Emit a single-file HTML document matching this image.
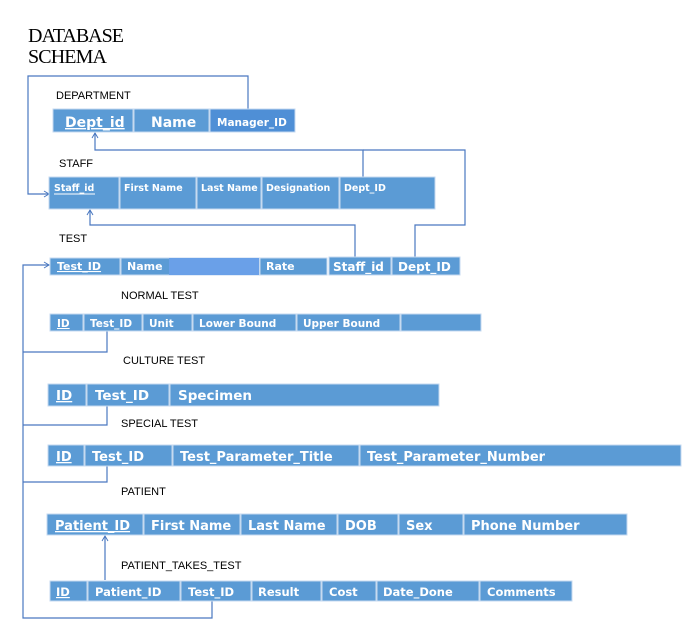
<!DOCTYPE html>
<html><head><meta charset="utf-8"><style>
html,body{margin:0;padding:0;background:#fff;width:699px;height:633px;overflow:hidden}
svg{display:block}
.c{fill:#5b9bd5;stroke:#c6daf0;stroke-width:1}
.t{fill:#fff;font-family:"DejaVu Sans",sans-serif;font-weight:bold}
.l{font-family:"Liberation Sans",sans-serif;font-size:11px;fill:#000}
.ln{stroke:#4a78c0;stroke-width:1.2;fill:none}
</style></head><body>
<svg width="699" height="633" viewBox="0 0 699 633">
<defs><marker id="a" markerWidth="8" markerHeight="8" refX="6" refY="4" orient="auto" markerUnits="userSpaceOnUse"><path d="M1,1 L6,4 L1,7" fill="none" stroke="#4a78c0" stroke-width="1"/></marker></defs>
<text x="28" y="42" font-family="Liberation Serif,serif" font-size="20" textLength="96">DATABASE</text>
<text x="28" y="63" font-family="Liberation Serif,serif" font-size="20" textLength="79">SCHEMA</text>

<!-- connectors -->
<polyline class="ln" points="248,109 248,76 28,76 28,194 49,194" marker-end="url(#a)"/>
<polyline class="ln" points="363,178 363,150 95,150 95,133" marker-end="url(#a)"/>
<polyline class="ln" points="415,258 415,225 465,225 465,150 363,150"/>
<polyline class="ln" points="355,258 355,225 90,225 90,210" marker-end="url(#a)"/>
<polyline class="ln" points="212,601 212,618 23,618 23,265 49,265" marker-end="url(#a)"/>
<polyline class="ln" points="107,331 107,352 23,352"/>
<polyline class="ln" points="107,406 107,425 23,425"/>
<polyline class="ln" points="107,466 107,482 23,482"/>
<polyline class="ln" points="105,580 105,536" marker-end="url(#a)"/>

<!-- DEPARTMENT -->
<text class="l" x="56" y="99">DEPARTMENT</text>
<rect class="c" x="53" y="109" width="80" height="23"/><rect class="c" x="134" y="109" width="75" height="23"/><rect class="c" x="210" y="109" width="85" height="23" style="fill:#4f8fd6"/>
<text class="t" x="65" y="127" font-size="14" text-decoration="underline">Dept_id</text>
<text class="t" x="151" y="127" font-size="14">Name</text>
<text class="t" x="217" y="126" font-size="10.5">Manager_ID</text>

<!-- STAFF -->
<text class="l" x="59" y="167">STAFF</text>
<rect class="c" x="49" y="177" width="70" height="32"/><rect class="c" x="120" y="177" width="76" height="32"/><rect class="c" x="197" y="177" width="64" height="32"/><rect class="c" x="262" y="177" width="77" height="32"/><rect class="c" x="340" y="177" width="95" height="32"/>
<text class="t" x="54" y="191" font-size="9.5">Staff_id</text><line x1="54" y1="194" x2="95" y2="194" stroke="#fff"/>
<text class="t" x="124" y="191" font-size="9.5">First Name</text>
<text class="t" x="201" y="191" font-size="9.5">Last Name</text>
<text class="t" x="266" y="191" font-size="9.5">Designation</text>
<text class="t" x="344" y="191" font-size="9.5">Dept_ID</text>

<!-- TEST -->
<text class="l" x="59" y="242">TEST</text>
<rect class="c" x="50" y="258" width="70" height="17"/><rect class="c" x="121" y="258" width="138" height="17"/><rect x="169" y="258" width="90" height="17" fill="#6aa0e8"/><rect class="c" x="260" y="258" width="67" height="17"/><rect class="c" x="329" y="257" width="62" height="18"/><rect class="c" x="392" y="257" width="68" height="18"/>
<text class="t" x="57" y="270" font-size="11" text-decoration="underline">Test_ID</text>
<text class="t" x="127" y="270" font-size="11">Name</text>
<text class="t" x="266" y="270" font-size="11">Rate</text>
<text class="t" x="333" y="271" font-size="12">Staff_id</text>
<text class="t" x="398" y="271" font-size="12">Dept_ID</text>

<!-- NORMAL TEST -->
<text class="l" x="121" y="299">NORMAL TEST</text>
<rect class="c" x="50" y="314" width="33" height="17"/><rect class="c" x="84" y="314" width="58" height="17"/><rect class="c" x="143" y="314" width="49" height="17"/><rect class="c" x="193" y="314" width="103" height="17"/><rect class="c" x="297" y="314" width="103" height="17"/><rect class="c" x="401" y="314" width="80" height="17"/>
<text class="t" x="57" y="327" font-size="10.5" text-decoration="underline">ID </text>
<text class="t" x="90" y="327" font-size="10.5">Test_ID</text>
<text class="t" x="149" y="327" font-size="10.5">Unit</text>
<text class="t" x="199" y="327" font-size="10.5">Lower Bound</text>
<text class="t" x="303" y="327" font-size="10.5">Upper Bound</text>

<!-- CULTURE TEST -->
<text class="l" x="123" y="364">CULTURE TEST</text>
<rect class="c" x="48" y="384" width="38" height="22"/><rect class="c" x="87" y="384" width="82" height="22"/><rect class="c" x="170" y="384" width="269" height="22"/>
<text class="t" x="56" y="400" font-size="13.5" text-decoration="underline">ID </text>
<text class="t" x="95" y="400" font-size="13.5">Test_ID</text>
<text class="t" x="178" y="400" font-size="13.5">Specimen</text>

<!-- SPECIAL TEST -->
<text class="l" x="121" y="427">SPECIAL TEST</text>
<rect class="c" x="48" y="445" width="36" height="21"/><rect class="c" x="85" y="445" width="87" height="21"/><rect class="c" x="173" y="445" width="186" height="21"/><rect class="c" x="360" y="445" width="321" height="21"/>
<text class="t" x="56" y="461" font-size="13" text-decoration="underline">ID </text>
<text class="t" x="92" y="461" font-size="13">Test_ID</text>
<text class="t" x="180" y="461" font-size="13">Test_Parameter_Title</text>
<text class="t" x="367" y="461" font-size="13">Test_Parameter_Number</text>

<!-- PATIENT -->
<text class="l" x="121" y="495">PATIENT</text>
<rect class="c" x="47" y="514" width="96" height="21"/><rect class="c" x="144" y="514" width="96" height="21"/><rect class="c" x="241" y="514" width="96" height="21"/><rect class="c" x="338" y="514" width="60" height="21"/><rect class="c" x="399" y="514" width="64" height="21"/><rect class="c" x="464" y="514" width="163" height="21"/>
<text class="t" x="55" y="530" font-size="13" text-decoration="underline">Patient_ID</text>
<text class="t" x="151" y="530" font-size="13">First Name</text>
<text class="t" x="248" y="530" font-size="13">Last Name</text>
<text class="t" x="345" y="530" font-size="13">DOB</text>
<text class="t" x="406" y="530" font-size="13">Sex</text>
<text class="t" x="471" y="530" font-size="13">Phone Number</text>

<!-- PATIENT_TAKES_TEST -->
<text class="l" x="121" y="569">PATIENT_TAKES_TEST</text>
<rect class="c" x="50" y="581" width="37" height="20"/><rect class="c" x="88" y="581" width="92" height="20"/><rect class="c" x="181" y="581" width="70" height="20"/><rect class="c" x="252" y="581" width="69" height="20"/><rect class="c" x="322" y="581" width="54" height="20"/><rect class="c" x="377" y="581" width="102" height="20"/><rect class="c" x="480" y="581" width="92" height="20"/>
<text class="t" x="56" y="596" font-size="11.5" text-decoration="underline">ID </text>
<text class="t" x="95" y="596" font-size="11.5">Patient_ID</text>
<text class="t" x="188" y="596" font-size="11.5">Test_ID</text>
<text class="t" x="258" y="596" font-size="11.5">Result</text>
<text class="t" x="329" y="596" font-size="11.5">Cost</text>
<text class="t" x="383" y="596" font-size="11.5">Date_Done</text>
<text class="t" x="487" y="596" font-size="11.5">Comments</text>
</svg>
</body></html>
